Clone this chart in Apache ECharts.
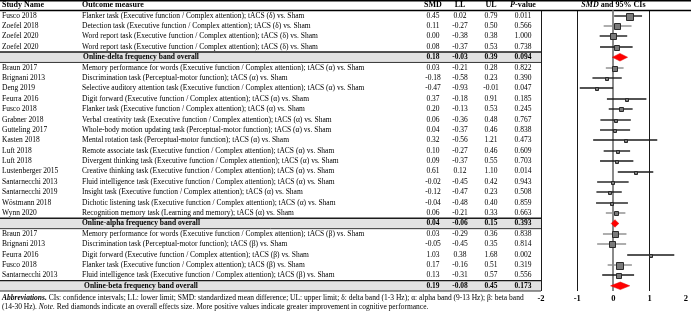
<!DOCTYPE html>
<html><head><meta charset="utf-8">
<script src="https://cdn.jsdelivr.net/npm/echarts@6/dist/echarts.min.js"></script>
<style>html,body{margin:0;padding:0;background:#fff}#c{width:691px;height:312px}</style>
</head><body><div id="c"></div>
<script>
// ---------- DATA ----------
const studies = [
  'Fusco 2018','Zoefel 2018','Zoefel 2020','Zoefel 2020','',
  'Braun 2017','Brignani 2013','Deng 2019','Feurra 2016','Fusco 2018','Grabner 2018','Gutteling 2017','Kasten 2018','Luft 2018','Luft 2018','Lustenberger 2015','Santarnecchi 2013','Santarnecchi 2019','Wöstmann 2018','Wynn 2020','',
  'Braun 2017','Brignani 2013','Feurra 2016','Fusco 2018','Santarnecchi 2013',''
];
const outcomes = [
  'Flanker task (Executive function / Complex attention); tACS (δ) vs. Sham',
  'Detection task (Executive function / Complex attention); tACS (δ) vs. Sham',
  'Word report task (Executive function / Complex attention); tACS (δ) vs. Sham',
  'Word report task (Executive function / Complex attention); tACS (δ) vs. Sham',
  'Online-delta frequency band overall',
  'Memory performance for words (Executive function / Complex attention); tACS (α) vs. Sham',
  'Discrimination task (Perceptual-motor function); tACS (α) vs. Sham',
  'Selective auditory attention task (Executive function / Complex attention); tACS (α) vs. Sham',
  'Digit forward (Executive function / Complex attention); tACS (α) vs. Sham',
  'Flanker task (Executive function / Complex attention); tACS (α) vs. Sham',
  'Verbal creativity task (Executive function / Complex attention); tACS (α) vs. Sham',
  'Whole-body motion updating task (Perceptual-motor function); tACS (α) vs. Sham',
  'Mental rotation task (Perceptual-motor function); tACS (α) vs. Sham',
  'Remote associate task (Executive function / Complex attention); tACS (α) vs. Sham',
  'Divergent thinking task (Executive function / Complex attention); tACS (α) vs. Sham',
  'Creative thinking task (Executive function / Complex attention); tACS (α) vs. Sham',
  'Fluid intelligence task (Executive function / Complex attention); tACS (α) vs. Sham',
  'Insight task (Executive function / Complex attention); tACS (α) vs. Sham',
  'Dichotic listening task (Executive function / Complex attention); tACS (α) vs. Sham',
  'Recognition memory task (Learning and memory); tACS (α) vs. Sham',
  'Online-alpha frequency band overall',
  'Memory performance for words (Executive function / Complex attention); tACS (β) vs. Sham',
  'Discrimination task (Perceptual-motor function); tACS (β) vs. Sham',
  'Digit forward (Executive function / Complex attention); tACS (β) vs. Sham',
  'Flanker task (Executive function / Complex attention); tACS (β) vs. Sham',
  'Fluid intelligence task (Executive function / Complex attention); tACS (β) vs. Sham',
  'Online-beta frequency band overall'
];
const rowKinds = [
  'study','study','study','study','summary',
  'study','study','study','study','study','study','study','study','study','study','study','study','study','study','study','summary',
  'study','study','study','study','study','summary'
];
const smd = [0.45,0.11,0.00,0.08,0.18, 0.03,-0.18,-0.47,0.37,0.20,0.06,0.04,0.32,0.10,0.09,0.61,-0.02,-0.12,-0.04,0.06,0.04, 0.03,-0.05,1.03,0.17,0.13,0.19];
const lowerLimit = [0.02,-0.27,-0.38,-0.37,-0.03, -0.21,-0.58,-0.93,-0.18,-0.13,-0.36,-0.37,-0.56,-0.27,-0.37,0.12,-0.45,-0.47,-0.48,-0.21,-0.06, -0.29,-0.45,0.38,-0.16,-0.31,-0.08];
const upperLimit = [0.79,0.50,0.38,0.53,0.39, 0.28,0.23,-0.01,0.91,0.53,0.48,0.46,1.21,0.46,0.55,1.10,0.42,0.23,0.40,0.33,0.15, 0.36,0.35,1.68,0.51,0.57,0.45];
const pValues = [0.011,0.566,1.000,0.738,0.094, 0.822,0.390,0.047,0.185,0.245,0.767,0.838,0.473,0.609,0.703,0.014,0.943,0.508,0.859,0.663,0.393, 0.838,0.814,0.002,0.319,0.556,0.173];
// relative study weights (drive marker size)
const weights = [6,5,5,4.5,0, 4,2.6,2.6,2.6,3,2.6,2.6,2.6,2.6,2.6,2.6,2.6,2.6,2.4,3,0, 5,5,2.6,5.5,4.5,0];
const xTicks = [-2,-1,0,1,2];
const headers = ['Study Name','Outcome measure','SMD','LL','UL','P-value','SMD and 95% CIs'];

// ---------- LAYOUT / STYLE ----------
const FONT = '"Liberation Serif","Times New Roman",serif';
const FS = 7.5, HFS = 8;
const TABLE_RIGHT = 541;
const COL = {study:2, outcome:82, summaryLabel:141, smd:433, ll:460, ul:491, p:523};
const W = 691;
const MARKER_SCALE = 1.2;
const GRAY_CI_ROWS = [1, 5, 19, 21, 22, 24];

const rowIdx = studies.map((_, i) => i);
const crisp = v => Math.round(v) + 0.5;

function txt(x, y, s, opt) {
  opt = opt || {};
  return {type:'text', silent:true, style:{
    x:x, y:y, text:s, fill:'#000',
    font:(opt.italic?'italic ':'') + (opt.bold?'bold ':'') + (opt.size||FS) + 'px ' + FONT,
    align:opt.align||'left', verticalAlign:'middle', rich:opt.rich
  }};
}
function hline(x1, x2, y, w, c) {
  return {type:'line', silent:true, shape:{x1:x1,y1:y,x2:x2,y2:y}, style:{stroke:c||'#000', lineWidth:w||1}};
}

function renderTable(params, api) {
  const i = api.value(1);
  const y = api.coord([0, i])[1];
  const h = api.size([0, 1])[1];
  const ch = [];
  const sum = rowKinds[i] === 'summary';
  if (sum) {
    ch.push({type:'rect', silent:true, shape:{x:0, y:y-h/2, width:TABLE_RIGHT, height:h}, style:{fill:'#e2e2e2'}});
    ch.push(hline(0, TABLE_RIGHT, y-h/2, 1.4, '#1a1a1a'));
    ch.push(hline(0, TABLE_RIGHT, y+h/2, 1, '#333'));
    ch.push(txt(COL.summaryLabel, y, outcomes[i], {bold:true, align:'center'}));
  } else {
    ch.push(txt(COL.study, y, studies[i]));
    ch.push(txt(COL.outcome, y, outcomes[i]));
  }
  const b = sum;
  ch.push(txt(COL.smd, y, smd[i].toFixed(2), {bold:b, align:'center'}));
  ch.push(txt(COL.ll, y, lowerLimit[i].toFixed(2), {bold:b, align:'center'}));
  ch.push(txt(COL.ul, y, upperLimit[i].toFixed(2), {bold:b, align:'center'}));
  ch.push(txt(COL.p, y, pValues[i].toFixed(3), {bold:b, align:'center'}));
  if (i === 0) {
    const hy = y - h;
    ch.push(hline(0, W, hy - h/2 + 0.75, 1.5, '#000'));
    ch.push(hline(0, W, y - h/2, 1.3, '#000'));
    ch.push(txt(COL.study, hy, headers[0], {bold:true, size:HFS}));
    ch.push(txt(COL.outcome, hy, headers[1], {bold:true, size:HFS}));
    ch.push(txt(COL.smd, hy, headers[2], {bold:true, size:HFS, align:'center'}));
    ch.push(txt(COL.ll, hy, headers[3], {bold:true, size:HFS, align:'center'}));
    ch.push(txt(COL.ul, hy, headers[4], {bold:true, size:HFS, align:'center'}));
    const rs = {fontFamily:FONT, fontSize:HFS, fontWeight:'bold'};
    const ri = {fontFamily:FONT, fontSize:HFS, fontWeight:'bold', fontStyle:'italic'};
    ch.push(txt(COL.p, hy, '{i|P}{n|-value}', {align:'center', rich:{i:ri, n:rs}}));
    const cx = api.coord([0, 0])[0];
    ch.push(txt(cx, hy, '{i|SMD}{n| and 95% CIs}', {align:'center', rich:{i:ri, n:rs}}));
  }
  return {type:'group', children:ch};
}

function renderZeroLine(params, api) {
  const cs = params.coordSys;
  const x = Math.round(api.coord([api.value(0), 0])[0]);
  return {type:'line', silent:true, shape:{x1:x, y1:cs.y, x2:x, y2:cs.y+cs.height},
    style:{stroke:'#8a8a8a', lineWidth:2}};
}

function renderForest(params, api) {
  const i = api.value(1);
  const c = api.coord([smd[i], i]);
  const a = api.coord([lowerLimit[i], i]);
  const b = api.coord([upperLimit[i], i]);
  if (rowKinds[i] === 'summary') {
    const hh = 3.8;
    return {type:'polygon', silent:true, shape:{points:[[a[0],c[1]],[c[0],c[1]-hh],[b[0],c[1]],[c[0],c[1]+hh]]},
      style:{fill:'#ff0000', stroke:'#e00000', lineWidth:0.5}};
  }
  const s = Math.round(weights[i] * MARKER_SCALE);
  const yc = Math.round(c[1]);
  const gray = GRAY_CI_ROWS.indexOf(i) >= 0;
  return {type:'group', children:[
    {type:'line', silent:true, shape:{x1:a[0],y1:yc,x2:b[0],y2:yc}, style:{stroke: gray ? '#8c8c8c' : '#1a1a1a', lineWidth:1.4}},
    {type:'rect', silent:true, shape:{x:Math.round(c[0]-s/2)+0.5, y:Math.round(yc-s/2)+0.5, width:s, height:s}, style:{fill:'#7a7a7a', stroke:'#2a2a2a', lineWidth:1}}
  ]};
}

const chart = echarts.init(document.getElementById('c'), null, {renderer:'canvas'});
chart.setOption({
  animation:false,
  backgroundColor:'#fff',
  grid:{left:541, right:3, top:10.5, bottom:21, containLabel:false},
  xAxis:{type:'value', min:-2, max:2, interval:1,
    axisLine:{show:false}, axisTick:{show:false},
    splitLine:{show:true, showMinLine:true, showMaxLine:true,
      lineStyle:{color:['#1a1a1a','#1a1a1a','rgba(0,0,0,0)','#1a1a1a','rgba(0,0,0,0)'], width:1}},
    axisLabel:{show:true, margin:3, color:'#000', fontWeight:'bold', fontSize:8.5, fontFamily:FONT,
      formatter: v => xTicks.indexOf(v) >= 0 ? String(v) : ''}},
  yAxis:{type:'category', inverse:true, data:rowIdx.map(String), show:false, boundaryGap:true},
  graphic:[{
    type:'text', left:2, top:293, silent:true,
    style:{
      text:'{bi|Abbreviations.}{n| CIs: confidence intervals; LL: lower limit; SMD: standardized mean difference; UL: upper limit; δ: delta band (1-3 Hz); α: alpha band (9-13 Hz); β: beta band}\n{n|(14-30 Hz). }{i|Note.}{n| Red diamonds indicate an overall effects size. More positive values indicate greater improvement in cognitive performance.}',
      lineHeight:9.5,
      rich:{
        n:{fontFamily:FONT, fontSize:FS, lineHeight:9.5},
        i:{fontFamily:FONT, fontSize:FS, fontStyle:'italic', lineHeight:9.5},
        bi:{fontFamily:FONT, fontSize:FS, fontStyle:'italic', fontWeight:'bold', lineHeight:9.5}
      }
    }
  }],
  series:[
    {type:'custom', name:'table', renderItem:renderTable, data:rowIdx.map(i=>[0, i]), z:1, clip:false, encode:{x:0, y:1}},
    {type:'custom', name:'zero', renderItem:renderZeroLine, data:[[0, 0]], z:2, clip:false, encode:{x:0, y:1}},
    {type:'custom', name:'forest', renderItem:renderForest, data:rowIdx.map(i=>[smd[i], i]), z:3, clip:false, encode:{x:0, y:1}}
  ]
});
</script></body></html>
